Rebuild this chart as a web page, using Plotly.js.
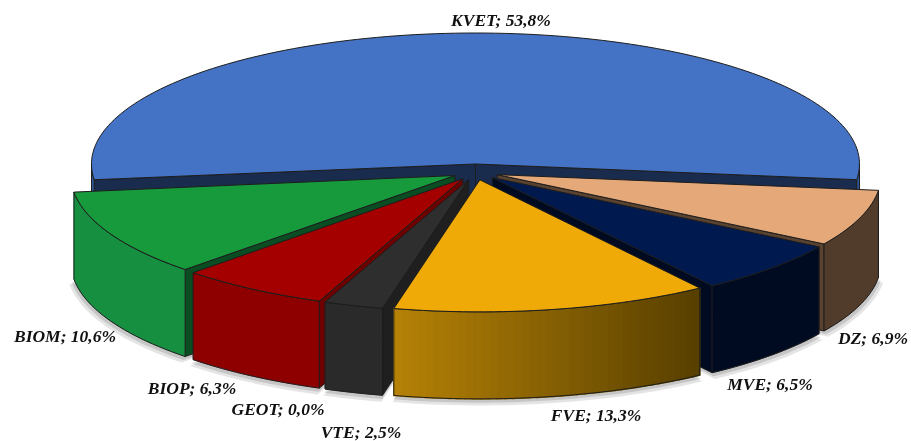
<!DOCTYPE html>
<html>
<head>
<meta charset="utf-8">
<script src="https://cdn.plot.ly/plotly-3.0.1.min.js"></script>
<style>html,body{margin:0;padding:0;background:#fff}#chart{width:911px;height:441px;filter:blur(0.35px)}</style>
</head>
<body>
<div id="chart"></div>
<script>
// Data
var categories = ['KVET','DZ','MVE','FVE','VTE','GEOT','BIOP','BIOM'];
var shares     = [53.8, 6.9, 6.5, 13.3, 2.5, 0.0, 6.3, 10.6];

// Styles
var topColors  = ['#4472c4','#e5a878','#001a50','#f0aa08','#2e2e2e','#808080','#a50000','#179a3c'];
var cutColors  = ['#1a2c4e','#5a4230','#000a20','#6a4c00','#1f1f1f','#505050','#6e0000','#0b4d22'];
var wallLeft   = ['#2f5597','#513c2b','#000b21','#b68206','#2a2a2a','#505050','#8e0000','#169040'];
var wallRight  = ['#2f5597','#513c2b','#000b21','#573f00','#2a2a2a','#505050','#8e0000','#169040'];
var labelX     = [501, 873, 770, 596, 361, 278, 192, 65];
var labelY     = [22, 340, 386, 417, 434, 411, 390, 338];
var drawOrder  = [0, 7, 1, 6, 2, 4, 3];

// Projection of the pie on to the page
var CX = 475.5, CY = 172, RX = 384, RY = 132, RY_BACK = 131, DEPTH = 87, EX = 23, EY = 8, START = -96.85;
function px(a){ return Math.sin(a*Math.PI/180); }
function py(a){ return -Math.cos(a*Math.PI/180); }
function ry(a){ return Math.cos(a*Math.PI/180) > 0 ? RY_BACK : RY; }

var starts = [], ends = [], acc = START;
shares.forEach(function(v){ starts.push(acc); acc += v*3.6; ends.push(acc); });

var traces = [];
function poly(xs, ys, fill, line, w){
  traces.push({type:'scatter', mode:'lines', x:xs.concat([xs[0]]), y:ys.concat([ys[0]]),
    fill: fill ? 'toself' : 'none', fillcolor: fill || undefined,
    line:{color: line || fill, width: w === undefined ? 1 : w, simplify:false},
    hoverinfo:'skip', showlegend:false});
}
function arcPts(a0, a1, ax, ay, dy, k){
  var xs=[], ys=[], n=Math.max(2, Math.ceil(Math.abs(a1-a0)/1.5));
  for(var i=0;i<=n;i++){
    var a=a0+(a1-a0)*i/n;
    xs.push(ax+k*RX*px(a)); ys.push(ay+k*ry(a)*py(a)+dy);
  }
  return {x:xs,y:ys};
}
function hex2(c){ return [1,3,5].map(function(i){return parseInt(c.substr(i,2),16);}); }
function mix(a,b,t){
  var p=hex2(a), q=hex2(b);
  return 'rgb('+p.map(function(v,i){return Math.round(v+(q[i]-v)*t);}).join(',')+')';
}
function apex(i){
  var mid=(starts[i]+ends[i])/2;
  return {x:CX+EX*px(mid), y:CY+EY*py(mid)};
}
var OUT='#1d1d1d';

// soft shadow below the front walls
[[1.012,5,'rgba(90,90,90,0.16)'],[1.006,3,'rgba(90,90,90,0.22)']].forEach(function(s){
  drawOrder.forEach(function(i){
    if(i===0) return;
    var c=apex(i), low=arcPts(starts[i],ends[i],c.x,c.y,DEPTH+s[1],s[0]);
    poly([c.x].concat(low.x), [c.y+DEPTH].concat(low.y), s[2], 'rgba(0,0,0,0)', 0);
  });
});

drawOrder.forEach(function(i){
  var c=apex(i), a0=starts[i], a1=ends[i];
  // cut faces
  [a0,a1].forEach(function(a,j){
    var vis = j===0 ? px(a)<0 : px(a)>0;
    if(!vis) return;
    var ex=c.x+RX*px(a), ey=c.y+ry(a)*py(a);
    poly([c.x,ex,ex,c.x],[c.y,ey,ey+DEPTH,c.y+DEPTH],cutColors[i],OUT,1);
  });
  // outer wall; a wall with a gradient is built from vertical strips
  var fa=Math.max(a0,90), fb=Math.min(a1,270);
  if(i===0){
    [[a0,-90],[90,a1]].forEach(function(r){
      var p=arcPts(r[0],r[1],c.x,c.y,0,1), q=arcPts(r[1],r[0],c.x,c.y,DEPTH,1);
      poly(p.x.concat(q.x),p.y.concat(q.y),wallLeft[i],OUT,1);
    });
  } else {
    var STRIPS = wallLeft[i]===wallRight[i] ? 1 : 40;
    var xa=c.x+RX*px(a0), xb=c.x+RX*px(a1), xmin=Math.min(xa,xb), xmax=Math.max(xa,xb);
    for(var s=0;s<STRIPS;s++){
      var b0=fa+(fb-fa)*s/STRIPS, b1=fa+(fb-fa)*(s+1)/STRIPS;
      var pr=arcPts(b0,b1,c.x,c.y,0,1), qr=arcPts(b1,b0,c.x,c.y,DEPTH,1);
      var xm=(c.x+RX*px(b0)+c.x+RX*px(b1))/2, t=(xm-xmin)/(xmax-xmin||1);
      var col=mix(wallLeft[i],wallRight[i],t);
      poly(pr.x.concat(qr.x),pr.y.concat(qr.y),col,col,STRIPS>1?1.6:0.5);
    }
    var p2=arcPts(fa,fb,c.x,c.y,0,1), q2=arcPts(fb,fa,c.x,c.y,DEPTH,1);
    poly(p2.x.concat(q2.x),p2.y.concat(q2.y),null,OUT,1);
  }
  // top
  var t2=arcPts(a0,a1,c.x,c.y,0,1);
  poly([c.x].concat(t2.x),[c.y].concat(t2.y),topColors[i],OUT,1);
});

// labels
traces.push({type:'scatter', mode:'text', x:labelX, y:labelY,
  text:categories.map(function(n,i){ return n+'; '+shares[i].toFixed(1).replace('.',',')+'%'; }),
  textposition:'middle center', cliponaxis:false,
  textfont:{family:'"Liberation Serif", serif', size:17.5, color:'#111', weight:'bold', style:'italic'},
  hoverinfo:'skip', showlegend:false});

Plotly.newPlot('chart', traces, {
  width:911, height:441, margin:{l:0,r:0,t:0,b:0,pad:0},
  paper_bgcolor:'#fff', plot_bgcolor:'#fff', showlegend:false, hovermode:false,
  xaxis:{range:[0,911], visible:false, fixedrange:true},
  yaxis:{range:[441,0], visible:false, fixedrange:true}
}, {displayModeBar:false, staticPlot:true});
</script>
</body>
</html>
